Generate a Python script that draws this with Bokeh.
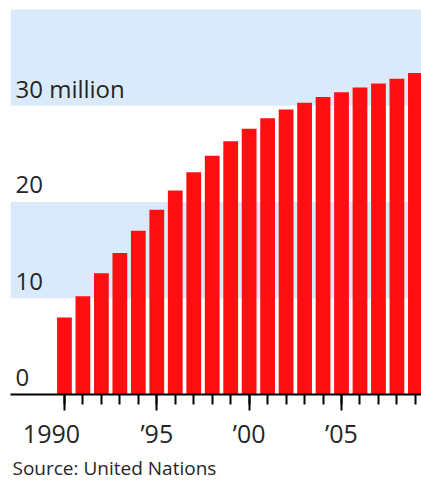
from bokeh.plotting import figure
from bokeh.models import (FixedTicker, BoxAnnotation, Range1d, Title, ColumnDataSource)
from bokeh.core.properties import value
from bokeh.embed import file_html
from bokeh.resources import INLINE

years = list(range(1990, 2010))
refugees = [8.0, 10.2, 12.6, 14.7, 17.0, 19.2, 21.2, 23.1, 24.8, 26.3,
            27.6, 28.7, 29.6, 30.3, 30.9, 31.4, 31.9, 32.3, 32.8, 33.4]
y_ticks = [0, 10, 20, 30]
y_tick_labels = ["0", "10", "20", "30 million"]
x_ticks = [1990, 1995, 2000, 2005]
x_tick_labels = ["1990\u00a0\u00a0\u00a0\u00a0", "\u201995", "\u201900", "\u201905"]
bands = [(10, 20), (30, 40)]
source_text = "Source: United Nations"

FONT = "Open Sans"
TEXT_COLOR = "#262626"
BAR_COLOR = "#ff0f12"
BAND_COLOR = "#dbeafa"

x_start, x_end = 1987.08, 2009.33
y_start, y_end = 0, 40.93

p = figure(width=421, height=480, output_backend="svg", toolbar_location=None,
           x_range=Range1d(x_start, x_end), y_range=Range1d(y_start, y_end),
           min_border_left=10, min_border_right=0, min_border_top=0,
           min_border_bottom=83)
p.outline_line_color = None
p.background_fill_color = "white"
p.border_fill_color = "white"
p.xgrid.visible = False
p.ygrid.visible = False
p.yaxis.visible = False

for lo, hi in bands:
    p.add_layout(BoxAnnotation(bottom=lo, top=hi, fill_color=BAND_COLOR,
                               fill_alpha=1.0, line_color=None, level="underlay"))

p.vbar(x=years, top=refugees, width=0.8, fill_color=BAR_COLOR, line_color=None)

lab_src = ColumnDataSource(dict(x=[x_start + 0.27] * len(y_ticks), y=y_ticks,
                                text=y_tick_labels))
p.text(x="x", y="y", text="text", source=lab_src, text_font=value(FONT),
       text_font_size="24px", text_color=TEXT_COLOR, text_baseline="alphabetic",
       text_align="left", y_offset=-17)

ax = p.xaxis[0]
ax.ticker = FixedTicker(ticks=x_ticks, minor_ticks=years)
ax.major_label_overrides = {t: l for t, l in zip(x_ticks, x_tick_labels)}
ax.axis_line_color = "black"
ax.axis_line_width = 2
ax.major_tick_line_color = "black"
ax.major_tick_line_width = 2
ax.minor_tick_line_color = "black"
ax.minor_tick_line_width = 2
ax.major_tick_in = 0
ax.major_tick_out = 16
ax.minor_tick_in = 0
ax.minor_tick_out = 10
ax.major_label_text_font = FONT
ax.major_label_text_font_size = "25px"
ax.major_label_text_color = TEXT_COLOR
ax.major_label_standoff = 5

p.add_layout(Title(text=source_text, align="left", text_font=FONT,
                   text_font_size="19px", text_font_style="normal",
                   text_color=TEXT_COLOR, offset=2, standoff=0), "below")

open("out.html", "w").write(file_html(p, INLINE))
